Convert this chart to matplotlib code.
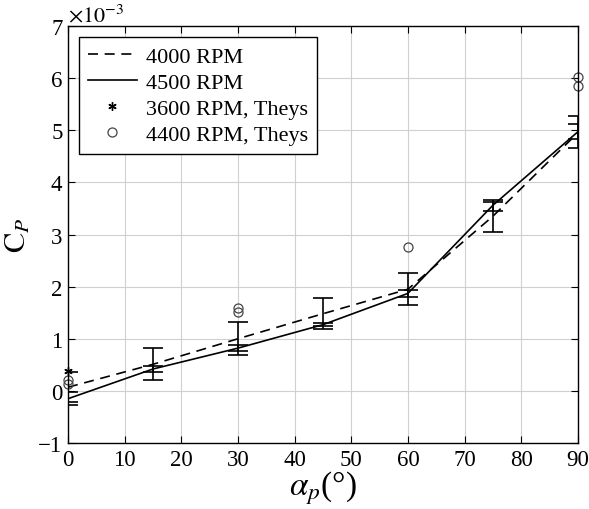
import numpy as np
import matplotlib
matplotlib.use("Agg")
import matplotlib.pyplot as plt

plt.rcParams['font.family'] = ['Liberation Serif', 'DejaVu Serif']
plt.rcParams['mathtext.fontset'] = 'stix'

# values in units of 1e-3
alpha = [0, 15, 30, 45, 60, 75, 90]
cp_4000 = [0.07, 0.51, 1.00, 1.48, 1.95, 3.35, 4.95]
cp_4000_lo = [-0.22, 0.20, 0.68, 1.18, 1.64, 3.04, 4.66]
cp_4000_hi = [0.36, 0.82, 1.32, 1.78, 2.26, 3.66, 5.28]
cp_4500 = [-0.15, 0.42, 0.82, 1.27, 1.87, 3.56, 4.97]
cp_4500_lo = [-0.28, 0.36, 0.76, 1.24, 1.80, 3.45, 4.83]
cp_4500_hi = [-0.02, 0.48, 0.88, 1.31, 1.94, 3.63, 5.12]

theys_3600_x = [0]
theys_3600_y = [0.38]
theys_4400_x = [0, 0, 30, 30, 60, 90, 90]
theys_4400_y = [0.21, 0.13, 1.59, 1.52, 2.77, 6.03, 5.84]

fig = plt.figure(figsize=(5.89, 5.10), dpi=100)
ax = fig.add_axes([0.1155, 0.1294, 0.8655, 0.8176])

a = np.array(alpha)
c1 = np.array(cp_4000)
c2 = np.array(cp_4500)
err1 = [c1 - np.array(cp_4000_lo), np.array(cp_4000_hi) - c1]
err2 = [c2 - np.array(cp_4500_lo), np.array(cp_4500_hi) - c2]

ax.plot(a, c1, color='black', lw=1.2, ls=(0, (6, 4)), label='4000 RPM')
ax.plot(a, c2, color='black', lw=1.2, ls='-', label='4500 RPM')
ax.errorbar(a, c1, yerr=err1, fmt='none', ecolor='black', elinewidth=1.2,
            capsize=7, capthick=1.2)
ax.errorbar(a, c2, yerr=err2, fmt='none', ecolor='black', elinewidth=1.2,
            capsize=7, capthick=1.2)
ax.plot(theys_3600_x, theys_3600_y, ls='none', marker=(6, 2, 0), ms=6,
        mew=1.0, color='black', clip_on=False, label='3600 RPM, Theys')
ax.plot(theys_4400_x, theys_4400_y, ls='none', marker='o', ms=6.5,
        mfc='none', mec='#444444', mew=0.9, clip_on=False,
        label='4400 RPM, Theys')

ax.set_xlim(0, 90)
ax.set_ylim(-1, 7)
ax.set_xticks(range(0, 91, 10))
ax.set_yticks(range(-1, 8))
ax.set_yticklabels(['\u22121'] + [str(i) for i in range(0, 8)])
ax.tick_params(direction='in', top=True, right=True, labelsize=16.5,
               length=5, width=0.8, pad=4)
ax.grid(True, color='#d0d0d0', lw=0.8)
ax.set_axisbelow(True)
for s in ax.spines.values():
    s.set_linewidth(1.0)

ax.set_xlabel(r'$\alpha_p$(°)', fontsize=24, labelpad=-1)
ax.set_ylabel(r'$\mathrm{C}_P$', fontsize=22, labelpad=4)
ax.text(0.0, 1.0, r'$\times10^{-3}$', transform=ax.transAxes, fontsize=16,
        ha='left', va='bottom')

leg = ax.legend(loc='upper left', fontsize=16, frameon=True, fancybox=False,
                edgecolor='black', framealpha=1, handlelength=2.2,
                borderaxespad=0.5, labelspacing=0.25, handletextpad=0.4)
leg.get_frame().set_linewidth(1.0)

fig.savefig('out.png', dpi=100)
